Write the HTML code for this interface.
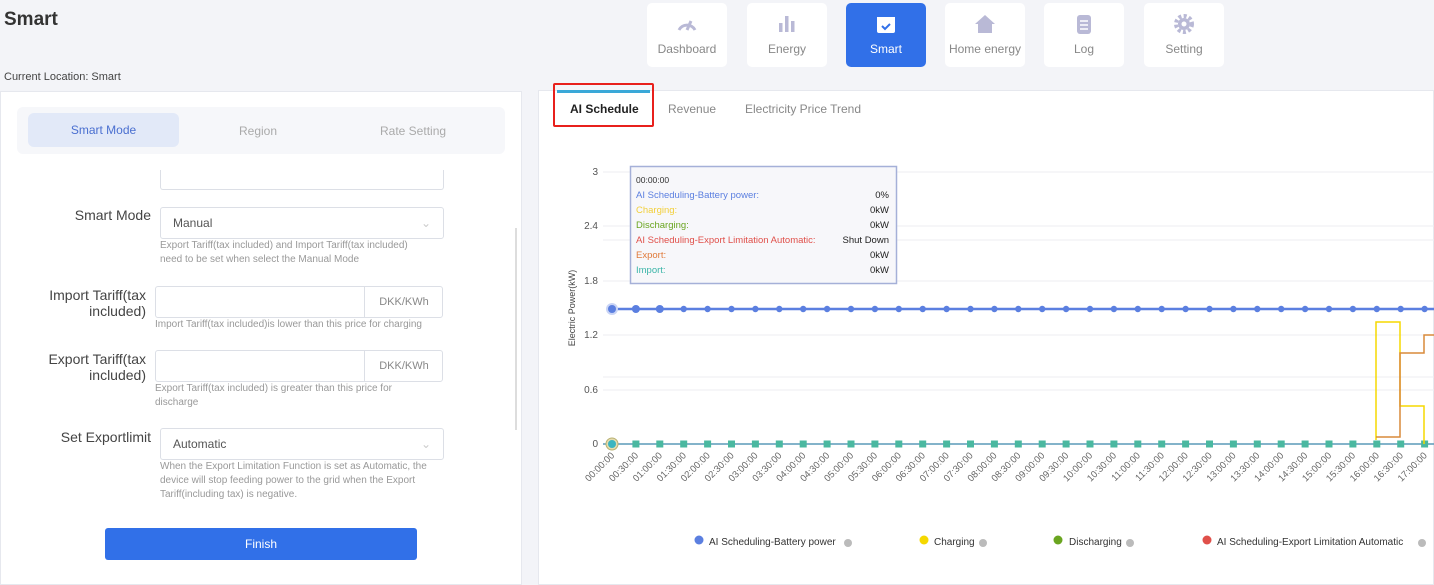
<!DOCTYPE html>
<html><head><meta charset="utf-8"><style>
*{box-sizing:border-box;margin:0;padding:0}
body{width:1434px;height:585px;overflow:hidden;background:#f3f4f8;font-family:"Liberation Sans",sans-serif;position:relative;color:#333}
.abs{position:absolute}
.nav{position:absolute;top:3px;width:80px;height:64px;background:#fff;border-radius:5px;text-align:center;font-size:12px;color:#888}
.nav .lbl{position:absolute;top:39px;left:0;right:0}
.nav .ic{position:absolute;top:10px;left:29px;width:22px;height:22px}
.lab{position:absolute;font-size:14px;color:#444;text-align:right}
.inp{position:absolute;background:#fff;border:1px solid #dcdfe6;border-radius:3px}
.hint{position:absolute;font-size:10px;color:#999;line-height:14px}
</style></head><body>
<div class="abs" style="left:4px;top:9px;font-size:19px;font-weight:bold;color:#333">Smart</div>
<div class="abs" style="left:4px;top:71px;font-size:11px;color:#444">Current Location: Smart</div>

<div class="nav" style="left:647px"><svg class="ic" viewBox="0 0 22 22"><path d="M3 17 A9 9 0 0 1 19 17" stroke="#b9b9d6" stroke-width="3" fill="none"/><path d="M11 17 L15 8" stroke="#b9b9d6" stroke-width="3"/></svg><div class="lbl">Dashboard</div></div>
<div class="nav" style="left:747px"><svg class="ic" viewBox="0 0 22 22"><rect x="3" y="10" width="3.5" height="9" fill="#b9b9d6"/><rect x="9" y="3" width="3.5" height="16" fill="#b9b9d6"/><rect x="15" y="8" width="3.5" height="11" fill="#b9b9d6"/></svg><div class="lbl">Energy</div></div>
<div class="nav" style="left:846px;background:#3170e8;color:#fff"><svg class="ic" viewBox="0 0 22 22"><rect x="2" y="4" width="18" height="16" rx="2" fill="#fff"/><rect x="2" y="4" width="18" height="4" fill="#fff"/><path d="M7 13 L10 16 L15 11" stroke="#3170e8" stroke-width="2" fill="none"/></svg><div class="lbl">Smart</div></div>
<div class="nav" style="left:945px"><svg class="ic" viewBox="0 0 22 22"><path d="M11 2 L21 11 H18 V20 H4 V11 H1 Z" fill="#b9b9d6"/></svg><div class="lbl">Home energy</div></div>
<div class="nav" style="left:1044px"><svg class="ic" viewBox="0 0 22 22"><rect x="4" y="2" width="14" height="19" rx="3" fill="#b9b9d6"/><path d="M7 8H15M7 12H15M7 16H15" stroke="#fff" stroke-width="1.5"/></svg><div class="lbl">Log</div></div>
<div class="nav" style="left:1144px"><svg class="ic" viewBox="0 0 22 22"><circle cx="11" cy="11" r="8" fill="none" stroke="#b9b9d6" stroke-width="4" stroke-dasharray="3 2.3"/><circle cx="11" cy="11" r="6" fill="#b9b9d6"/><circle cx="11" cy="11" r="2.5" fill="#fff"/></svg><div class="lbl">Setting</div></div>

<!-- left panel -->
<div class="abs" style="left:0;top:91px;width:522px;height:494px;background:#fff;border:1px solid #e6e8ee"></div>
<div class="abs" style="left:17px;top:107px;width:488px;height:47px;background:#f6f7fa;border-radius:6px"></div>
<div class="abs" style="left:28px;top:113px;width:151px;height:34px;background:#e2e9f8;border-radius:6px;font-size:12px;color:#4a6fd0;text-align:center;line-height:34px">Smart Mode</div>
<div class="abs" style="left:239px;top:124px;font-size:12px;color:#aaa">Region</div>
<div class="abs" style="left:380px;top:124px;font-size:12px;color:#aaa">Rate Setting</div>
<div class="inp" style="left:160px;top:170px;width:284px;height:20px;border-top:none;border-radius:0 0 3px 3px"></div>
<div class="abs" style="left:515px;top:228px;width:2px;height:202px;background:#ddd"></div>

<div class="lab" style="left:20px;top:207px;width:131px">Smart Mode</div>
<div class="inp" style="left:160px;top:207px;width:284px;height:32px;font-size:12px;color:#555;padding:8px 12px">Manual<span style="float:right;color:#ccc">⌄</span></div>
<div class="hint" style="left:160px;top:239px">Export Tariff(tax included) and Import Tariff(tax included)<br>need to be set when select the Manual Mode</div>

<div class="lab" style="left:20px;top:287px;width:126px;line-height:16px">Import Tariff(tax<br>included)</div>
<div class="inp" style="left:155px;top:286px;width:288px;height:32px"><div style="position:absolute;left:208px;top:0;bottom:0;width:79px;border-left:1px solid #dcdfe6;font-size:11px;color:#888;text-align:center;line-height:30px">DKK/KWh</div></div>
<div class="hint" style="left:155px;top:318px">Import Tariff(tax included)is lower than this price for charging</div>

<div class="lab" style="left:20px;top:351px;width:126px;line-height:16px">Export Tariff(tax<br>included)</div>
<div class="inp" style="left:155px;top:350px;width:288px;height:32px"><div style="position:absolute;left:208px;top:0;bottom:0;width:79px;border-left:1px solid #dcdfe6;font-size:11px;color:#888;text-align:center;line-height:30px">DKK/KWh</div></div>
<div class="hint" style="left:155px;top:382px">Export Tariff(tax included) is greater than this price for<br>discharge</div>

<div class="lab" style="left:20px;top:429px;width:131px">Set Exportlimit</div>
<div class="inp" style="left:160px;top:428px;width:284px;height:32px;font-size:12px;color:#555;padding:8px 12px">Automatic<span style="float:right;color:#ccc">⌄</span></div>
<div class="hint" style="left:160px;top:460px;height:40px;overflow:hidden">When the Export Limitation Function is set as Automatic, the<br>device will stop feeding power to the grid when the Export<br>Tariff(including tax) is negative.</div>

<div class="abs" style="left:105px;top:528px;width:312px;height:32px;background:#3170e8;border-radius:3px;color:#fff;font-size:12px;text-align:center;line-height:32px">Finish</div>

<!-- right panel -->
<div class="abs" style="left:538px;top:90px;width:896px;height:495px;background:#fff;border:1px solid #e6e8ee"></div>
<div class="abs" style="left:557px;top:90px;width:93px;height:3px;background:#3aa8d8"></div>
<div class="abs" style="left:553px;top:83px;width:101px;height:44px;border:2px solid #e8201c;border-radius:2px"></div>
<div class="abs" style="left:570px;top:102px;font-size:12px;font-weight:bold;color:#222">AI Schedule</div>
<div class="abs" style="left:668px;top:102px;font-size:12px;color:#888">Revenue</div>
<div class="abs" style="left:745px;top:102px;font-size:12px;color:#888">Electricity Price Trend</div>

<svg class="abs" style="left:0;top:0" width="1434" height="585" font-family="Liberation Sans, sans-serif">
<g stroke="#eceef2" stroke-width="1">
<line x1="603" y1="172" x2="1434" y2="172"/><line x1="603" y1="226" x2="1434" y2="226"/><line x1="603" y1="281" x2="1434" y2="281"/><line x1="603" y1="335" x2="1434" y2="335"/><line x1="603" y1="390" x2="1434" y2="390"/>
<line x1="603" y1="240" x2="1434" y2="240"/><line x1="603" y1="377" x2="1434" y2="377"/>
</g>
<g font-size="10" fill="#555" text-anchor="end">
<text x="598" y="175">3</text><text x="598" y="229">2.4</text><text x="598" y="284">1.8</text><text x="598" y="338">1.2</text><text x="598" y="393">0.6</text><text x="598" y="447">0</text>
</g>
<text x="575" y="308" font-size="9" fill="#444" transform="rotate(-90 575 308)" text-anchor="middle">Electric Power(kW)</text>
<line x1="603" y1="444" x2="1434" y2="444" stroke="#5a9ab8" stroke-width="1.5"/>
<line x1="612" y1="309" x2="1434" y2="309" stroke="#5b7fe0" stroke-width="2.5"/>
<g id="pts"></g>
<polyline points="1376,440 1376,322 1400,322 1400,406 1424,406 1424,444" fill="none" stroke="#f5d800" stroke-width="1.5"/>
<polyline points="1376,437 1400,437 1400,353 1424,353 1424,335 1434,335" fill="none" stroke="#d98a3a" stroke-width="1.5"/>
<circle cx="612" cy="309" r="6" fill="#c9d4f5"/><circle cx="612" cy="309" r="4" fill="#5b7fe0"/>
<circle cx="612" cy="444" r="6" fill="#e4dcb0" stroke="#b8b070"/><circle cx="612" cy="444" r="4" fill="#3bb5c0"/>
<g id="xl" font-size="9.5" fill="#666" text-anchor="end"></g>
<!-- tooltip -->
<rect x="630.5" y="166.5" width="266" height="117" fill="#f7f7fa" stroke="#a5b0d8" stroke-width="1.5"/>
<g font-size="9.5">
<text x="636" y="183" fill="#333" font-size="8.5">00:00:00</text>
<text x="636" y="198" fill="#5b7fe0">AI Scheduling-Battery power:</text><text x="889" y="198" text-anchor="end" fill="#222">0%</text>
<text x="636" y="213" fill="#f2cf3a">Charging:</text><text x="889" y="213" text-anchor="end" fill="#222">0kW</text>
<text x="636" y="228" fill="#6aa520">Discharging:</text><text x="889" y="228" text-anchor="end" fill="#222">0kW</text>
<text x="636" y="243" fill="#e0504a">AI Scheduling-Export Limitation Automatic:</text><text x="889" y="243" text-anchor="end" fill="#222">Shut Down</text>
<text x="636" y="258" fill="#e07a3a">Export:</text><text x="889" y="258" text-anchor="end" fill="#222">0kW</text>
<text x="636" y="273" fill="#3bb5a8">Import:</text><text x="889" y="273" text-anchor="end" fill="#222">0kW</text>
</g>
<!-- legend -->
<g font-size="10" fill="#333">
<circle cx="699" cy="540" r="4.5" fill="#5b7fe0"/><text x="709" y="545">AI Scheduling-Battery power</text><circle cx="848" cy="543" r="4" fill="#bbb"/>
<circle cx="924" cy="540" r="4.5" fill="#f5d800"/><text x="934" y="545">Charging</text><circle cx="983" cy="543" r="4" fill="#bbb"/>
<circle cx="1058" cy="540" r="4.5" fill="#6aa520"/><text x="1069" y="545">Discharging</text><circle cx="1130" cy="543" r="4" fill="#bbb"/>
<circle cx="1207" cy="540" r="4.5" fill="#e0504a"/><text x="1217" y="545">AI Scheduling-Export Limitation Automatic</text><circle cx="1422" cy="543" r="4" fill="#bbb"/>
</g>
</svg>
<script>
var ns="http://www.w3.org/2000/svg",g=document.getElementById("pts"),xl=document.getElementById("xl");
for(var i=0;i<36;i++){var x=612+i*23.9;if(x>1440)break;
 if(i>0){var c=document.createElementNS(ns,"circle");c.setAttribute("cx",x);c.setAttribute("cy",309);c.setAttribute("r",i<3?4:3.2);c.setAttribute("fill","#5b7fe0");g.appendChild(c);
 var r=document.createElementNS(ns,"rect");r.setAttribute("x",x-3.5);r.setAttribute("y",440.5);r.setAttribute("width",7);r.setAttribute("height",7);r.setAttribute("fill","#4ab8a0");g.appendChild(r);}
 var h=Math.floor(i/2),m=i%2?"30":"00",s=(h<10?"0":"")+h+":"+m+":00";
 var t=document.createElementNS(ns,"text");t.setAttribute("x",x+3);t.setAttribute("y",456);t.setAttribute("transform","rotate(-45 "+(x+3)+" 456)");t.textContent=s;xl.appendChild(t);}
</script>
</body></html>
